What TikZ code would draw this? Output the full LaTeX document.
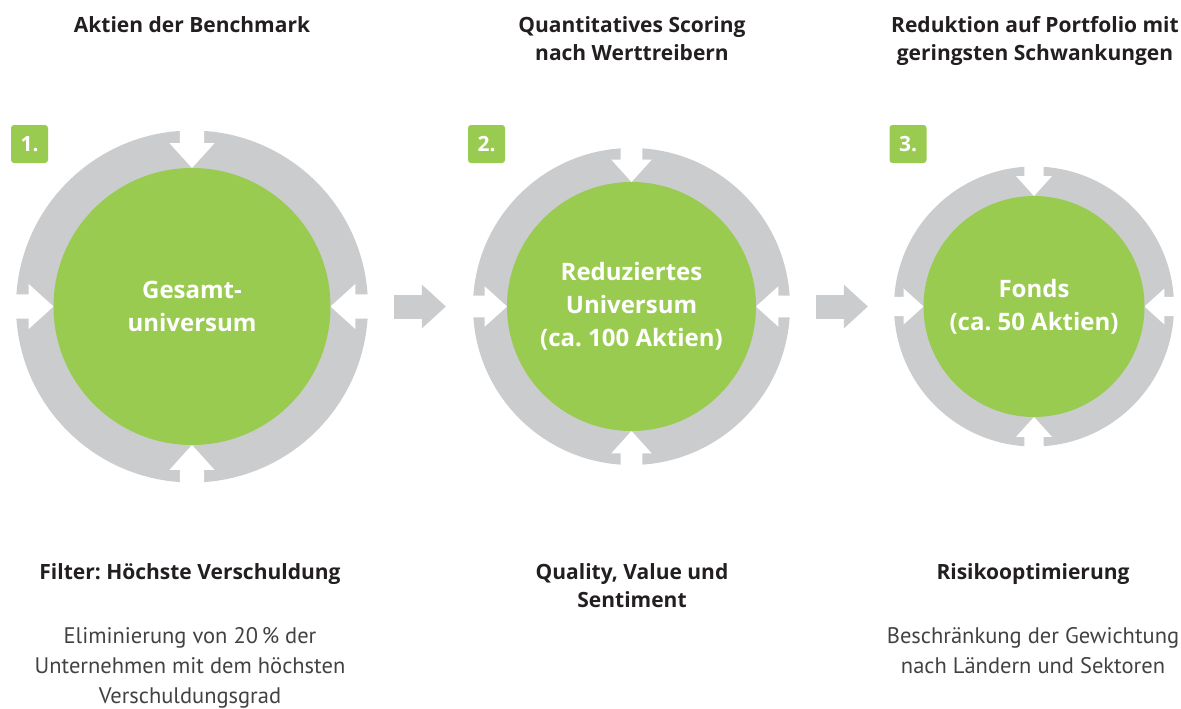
\documentclass[tikz,border=0pt]{standalone}
\usepackage{fontspec}
\setmainfont{Open Sans}
\newfontfamily\notefont{PT Sans}
\frenchspacing
\usetikzlibrary{arrows.meta}
\usetikzlibrary{calc}
\definecolor{fundGreen}{RGB}{153,203,80}
\definecolor{ringGrey}{RGB}{203,204,206}
\definecolor{textDark}{RGB}{35,31,32}
\tikzstyle{ring} = [circle,fill=ringGrey,inner sep=0pt]
\tikzstyle{core} = [circle,fill=fundGreen,inner sep=0pt,text=white,align=center,font=\bfseries\fontsize{24}{33}\selectfont]
\tikzstyle{badge} = [fill=fundGreen,rounded corners=3pt,minimum width=37pt,minimum height=38pt,inner sep=0pt,text=white,font=\bfseries\fontsize{21}{26}\selectfont]
\tikzstyle{heading} = [anchor=north,inner sep=0pt,align=center,text=textDark,font=\bfseries\fontsize{21}{28}\selectfont]
\tikzstyle{note} = [anchor=north,inner sep=0pt,align=center,text=textDark!85,font=\notefont\fontsize{22.5}{30}\selectfont]
\tikzstyle{flow} = [line width=24pt,draw=ringGrey,-{Triangle[width=44pt,length=24pt,line width=0pt]}]

\begin{document}
\begin{tikzpicture}[x=1pt,y=-1pt]

  \useasboundingbox (0,0) rectangle (1181,709);

  % rings with white notches, green core on top
  \foreach \n/\cx/\r/\R/\txt in {1/192/138.5/176/{Gesamt-\\universum},
                                2/631.5/124.5/158.5/{Reduziertes\\Universum\\(ca. 100 Aktien)},
                                3/1034/110.5/140/{Fonds\\(ca. 50 Aktien)}}{
    \node[ring,minimum size={2*\R*1pt}] (o\n) at (\cx,306.5) {};
    \pgfmathsetmacro\w{0.087*\r}
    \pgfmathsetmacro\h{0.163*\r}
    \pgfmathsetmacro\l{\r+0.18*\r}
    \pgfmathsetmacro\e{\R+2}
    \foreach \a in {0,90,180,270}{
      \fill[white,shift={(o\n.center)},rotate=\a]
        (-\w,\e) -- (-\w,\l) -- (-\h,\l) -- (0,\r) -- (\h,\l) -- (\w,\l) -- (\w,\e) -- cycle;
    }
    \node[core,minimum size={2*\r*1pt}] (s\n) at (\cx,306.5) {\txt};
  }

  \node[badge] (b1) at (29.5,144) {1.};
  \node[badge] (b2) at (486.5,144) {2.};
  \node[badge] (b3) at (908,144) {3.};

  \draw[flow] ([xshift=26pt]o1.east) -- ([xshift=-27pt]o2.west);
  \draw[flow] ([xshift=26pt]o2.east) -- ([xshift=-26pt]o3.west);

  \node[heading] (h1) at (192,16) {Aktien der Benchmark};
  \node[heading] (h2) at (632,16) {Quantitatives Scoring\\nach Werttreibern};
  \node[heading] (h3) at (1035,16) {Reduktion auf Portfolio mit\\geringsten Schwankungen};

  \node[heading] (f1) at (190,563) {Filter: Höchste Verschuldung};
  \node[heading] (f2) at (632,563) {Quality, Value und\\Sentiment};
  \node[heading] (f3) at (1033,563) {Risikooptimierung};

  \node[note] (d1) at (190,627) {Eliminierung von 20\,\% der\\Unternehmen mit dem höchsten\\Verschuldungsgrad};
  \node[note] (d3) at (1033,627) {Beschränkung der Gewichtung\\nach Ländern und Sektoren};

\end{tikzpicture}
\end{document}
